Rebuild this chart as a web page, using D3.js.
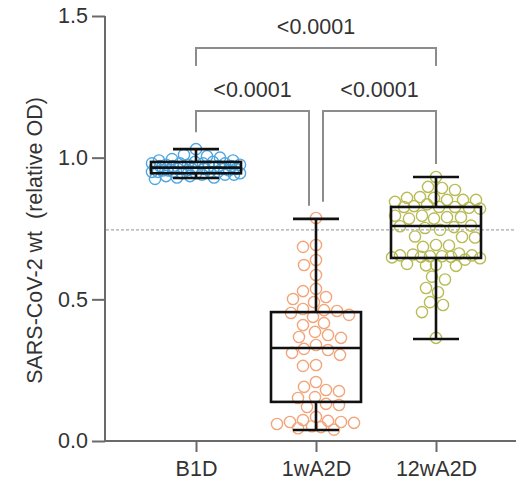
<!DOCTYPE html>
<html><head><meta charset="utf-8">
<script src="https://cdn.jsdelivr.net/npm/d3@7"></script>
<style>
html,body{margin:0;padding:0;background:#fff;}
svg{display:block;font-family:"Liberation Sans",Arial,sans-serif;}
</style></head>
<body>
<svg id="c" width="516" height="487"></svg>
<script>
// ---- data ----
const groups = ["B1D", "1wA2D", "12wA2D"];
const colors = ["#4fa6e0", "#f2a57a", "#b9bb55"];
const yTicks = [0.0, 0.5, 1.0, 1.5];
const refLine = 0.745;
const valuesB1D = [1.03, 1.01, 1.005, 1.0, 0.995, 0.99, 0.99, 0.985, 0.985, 0.98, 0.98, 0.98, 0.975, 0.975, 0.975,
  0.97, 0.97, 0.97, 0.97, 0.965, 0.965, 0.965, 0.965, 0.96, 0.96, 0.96, 0.96, 0.955, 0.955, 0.955, 0.955,
  0.95, 0.95, 0.95, 0.95, 0.945, 0.945, 0.945, 0.94, 0.94, 0.94, 0.935, 0.935, 0.93, 0.93, 0.925, 0.97, 0.96, 0.98, 0.95];
const values1w = [0.787, 0.685, 0.692, 0.639, 0.621, 0.586, 0.529, 0.537, 0.508, 0.501, 0.490,
  0.466, 0.445, 0.459, 0.452, 0.438, 0.462, 0.409, 0.416, 0.385, 0.367, 0.374, 0.364, 0.339,
  0.325, 0.321, 0.311, 0.304, 0.268, 0.265, 0.208, 0.180, 0.191, 0.176, 0.152, 0.155,
  0.120, 0.127, 0.131, 0.085, 0.071, 0.067, 0.074, 0.060, 0.067, 0.049, 0.064, 0.040, 0.045, 0.052];
const values12w = [0.932, 0.893, 0.886, 0.897, 0.851, 0.858, 0.851, 0.851, 0.844, 0.858, 0.861,
  0.826, 0.820, 0.829, 0.823, 0.826, 0.835, 0.826, 0.790, 0.785, 0.795, 0.785, 0.795, 0.790,
  0.755, 0.758, 0.745, 0.752, 0.760, 0.720, 0.718, 0.722, 0.690, 0.685, 0.692,
  0.655, 0.658, 0.650, 0.652, 0.655, 0.650, 0.652, 0.645, 0.648, 0.640, 0.662,
  0.620, 0.622, 0.618, 0.625, 0.580, 0.570, 0.540, 0.525, 0.490, 0.480, 0.455, 0.364];
const groupValues = [valuesB1D, values1w, values12w];
// box stats: [min, q1, median, q3, max]
const boxB1D = [0.928, 0.945, 0.965, 0.985, 1.03];
const box1w = [0.039, 0.138, 0.328, 0.455, 0.784];
const box12w = [0.360, 0.646, 0.759, 0.826, 0.932];
const boxStats = [boxB1D, box1w, box12w];
const comparisons = [["B1D", "12wA2D", "<0.0001"], ["B1D", "1wA2D", "<0.0001"], ["1wA2D", "12wA2D", "<0.0001"]];
const yLabel = "SARS-CoV-2 wt  (relative OD)";

// ---- layout ----
const svg = d3.select("#c");
const y = d3.scaleLinear().domain([0, 1.5]).range([441, 16]);
const x = d3.scalePoint().domain(groups).range([196, 436]);
const textColor = "#333";
const fs = 21.5;

// reference line
svg.append("line").attr("x1", 106).attr("x2", 516).attr("y1", y(refLine)).attr("y2", y(refLine))
  .attr("stroke", "#a8a8a8").attr("stroke-width", 1.3).attr("stroke-dasharray", "3,2");

// y axis
const yAx = svg.append("g").attr("transform", "translate(105,0)")
  .call(d3.axisLeft(y).tickValues(yTicks).tickFormat(d3.format(".1f")).tickSize(13).tickPadding(4));
yAx.selectAll("path,line").attr("stroke", "#6a6a6a").attr("stroke-width", 2);
yAx.select(".domain").attr("d", `M0,${y(1.5)}V${y(0)}`);
yAx.selectAll("text").attr("font-size", fs).attr("fill", textColor).attr("font-family", "Liberation Sans, Arial, sans-serif");

// x axis
const xAx = svg.append("g").attr("transform", `translate(0,${y(0)})`)
  .call(d3.axisBottom(x).tickSize(11).tickPadding(9));
xAx.select(".domain").attr("d", "M104,0H516");
xAx.selectAll("path,line").attr("stroke", "#6a6a6a").attr("stroke-width", 2);
xAx.selectAll("text").attr("font-size", fs).attr("fill", textColor).attr("font-family", "Liberation Sans, Arial, sans-serif");

// y label
svg.append("text").attr("transform", `translate(42,${(y(0) + y(1.5)) / 2 + 12}) rotate(-90)`)
  .attr("text-anchor", "middle").attr("font-size", fs).attr("fill", textColor)
  .style("white-space", "pre").attr("xml:space", "preserve").text(yLabel);

// swarm points
const r = 5.6, maxHalf = 44, sep = 12.4;
groups.forEach((g, gi) => {
  const cx0 = x(g);
  const pts = [];
  const vals = groupValues[gi].slice().sort(d3.descending);
  vals.forEach(v => {
    const py = y(v);
    let best = null, bestD = -1;
    for (let k = 0; k <= 2 * maxHalf; k++) {
      const dx = (k % 2 === 0 ? 1 : -1) * Math.ceil(k / 2);
      let md = Infinity;
      for (const p of pts) {
        const d = Math.hypot(p.x - (cx0 + dx), p.y - py);
        if (d < md) md = d;
      }
      if (md >= sep) { best = dx; bestD = md; break; }
      if (md > bestD) { bestD = md; best = dx; }
    }
    pts.push({x: cx0 + best, y: py});
  });
  svg.append("g").selectAll("circle").data(pts).join("circle")
    .attr("cx", d => d.x).attr("cy", d => d.y).attr("r", r)
    .attr("fill", "none").attr("stroke", colors[gi]).attr("stroke-width", 1.4);
});

// boxes
const bw = 45, cw = 23;
groups.forEach((g, gi) => {
  const [mn, q1, md, q3, mx] = boxStats[gi];
  const cx0 = x(g);
  const gg = svg.append("g").attr("stroke", "#111").attr("stroke-width", 2.6).attr("fill", "none");
  gg.append("rect").attr("x", cx0 - bw).attr("y", y(q3)).attr("width", 2 * bw).attr("height", y(q1) - y(q3));
  gg.append("line").attr("x1", cx0 - bw).attr("x2", cx0 + bw).attr("y1", y(md)).attr("y2", y(md));
  gg.append("line").attr("x1", cx0).attr("x2", cx0).attr("y1", y(q3)).attr("y2", y(mx));
  gg.append("line").attr("x1", cx0).attr("x2", cx0).attr("y1", y(q1)).attr("y2", y(mn));
  gg.append("line").attr("x1", cx0 - cw).attr("x2", cx0 + cw).attr("y1", y(mx)).attr("y2", y(mx));
  gg.append("line").attr("x1", cx0 - cw).attr("x2", cx0 + cw).attr("y1", y(mn)).attr("y2", y(mn));
});

// significance brackets
const bracketLevels = [1.387, 1.165, 1.165];
const brStroke = "#8c8c8c";
comparisons.forEach(([a, b, lab], i) => {
  const ia = groups.indexOf(a), ib = groups.indexOf(b);
  const top = i === 0;
  const xa = x(a) + (top ? 0 : (ia === 1 ? 7 : 0));
  const xb = x(b) - (top ? 0 : (ib === 1 ? 7 : 0));
  const by = y(bracketLevels[i]);
  const ya = top ? by + 18 : y(boxStats[ia][4]) - 17;
  const yb = top ? by + 18 : y(boxStats[ib][4]) - 13;
  svg.append("path").attr("d", `M${xa},${ya}V${by}H${xb}V${yb}`)
    .attr("fill", "none").attr("stroke", brStroke).attr("stroke-width", 2);
  svg.append("text").attr("x", (xa + xb) / 2).attr("y", by - 14).attr("text-anchor", "middle")
    .attr("font-size", fs).attr("fill", textColor).text(lab);
});
</script>
</body></html>
